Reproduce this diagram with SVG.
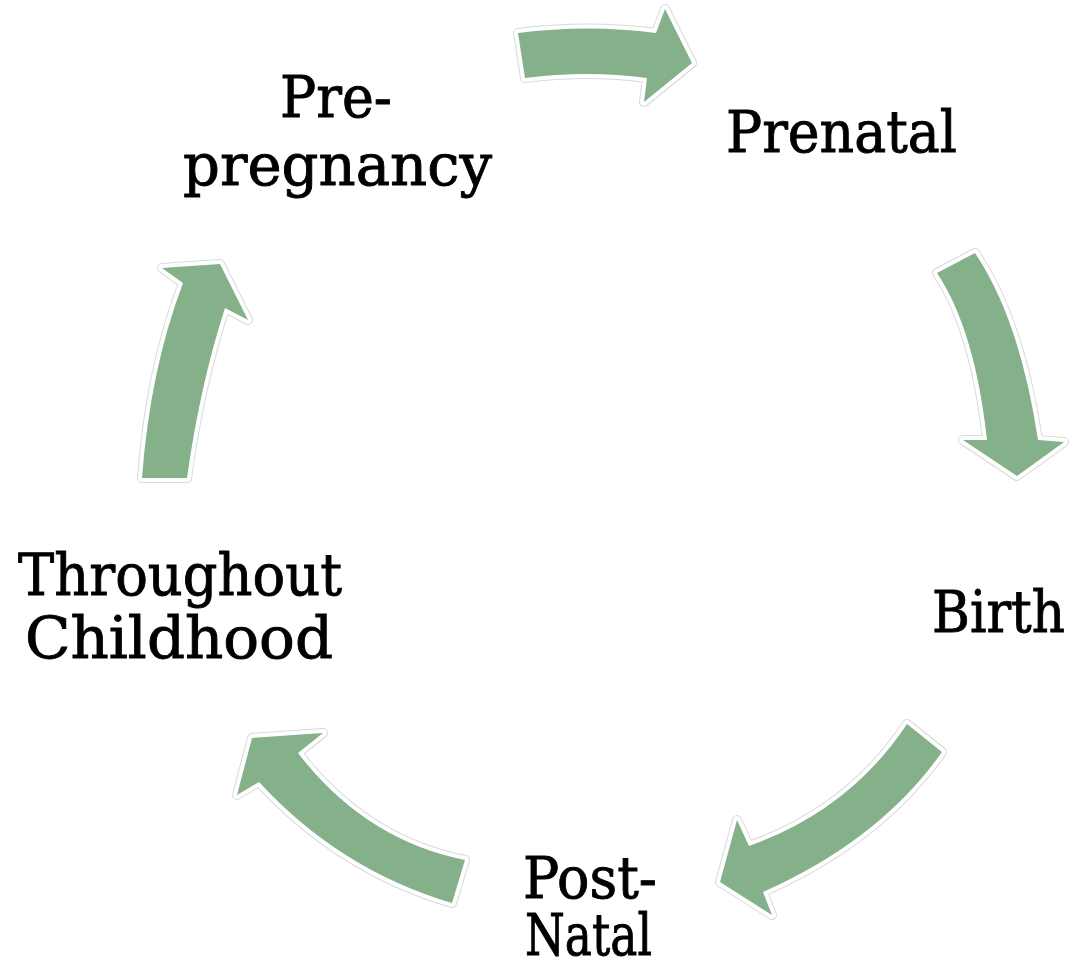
<svg xmlns="http://www.w3.org/2000/svg" xmlns:xlink="http://www.w3.org/1999/xlink" width="1070" height="962" viewBox="0 0 1070 962">
<style>
.lbl{font-family:"DejaVu Serif","Liberation Serif",serif;font-size:57px;fill:#000;stroke:#000;stroke-width:0.9px;}
.edge{fill:none;stroke:#d9d9d9;stroke-width:10;stroke-linejoin:round;}
.halo{fill:none;stroke:#fff;stroke-width:8;stroke-linejoin:round;}
.arw{fill:#84b08a;stroke:none;}
</style>
<defs>
<path id="a1" d="M518,33 Q588,24 656,33 L665,9 L692,63 L644,102 L647,78 Q588,70 525,78 Z"/>
<path id="a2" d="M937,273 L975,253 Q1020,320 1038,440 L1064,442 L1017,476 L963,440 L987,440 Q975,330 937,273 Z"/>
<path id="a3" d="M907,724 L942,752 Q880,840 763,892 L772,915 L720,882 L737,820 L749,846 Q850,810 907,724 Z"/>
<path id="a4" d="M465,860 L452,903 Q340,870 259,782 L237,795 L252,738 L323,733 L298,753 Q365,840 465,860 Z"/>
<path id="a5" d="M142,478 L187,478 Q200,385 225,308 L248,320 L220,264 L162,268 L183,283 Q150,370 142,478 Z"/>
</defs>
<rect width="1070" height="962" fill="#fff"/>
<g id="connectors">
<use xlink:href="#a1" class="edge"/><use xlink:href="#a1" class="halo"/><use xlink:href="#a1" class="arw"/>
<use xlink:href="#a2" class="edge"/><use xlink:href="#a2" class="halo"/><use xlink:href="#a2" class="arw"/>
<use xlink:href="#a3" class="edge"/><use xlink:href="#a3" class="halo"/><use xlink:href="#a3" class="arw"/>
<use xlink:href="#a4" class="edge"/><use xlink:href="#a4" class="halo"/><use xlink:href="#a4" class="arw"/>
<use xlink:href="#a5" class="edge"/><use xlink:href="#a5" class="halo"/><use xlink:href="#a5" class="arw"/>
</g>
<g id="node-prepregnancy">
<text class="lbl" x="280" y="117" textLength="112" lengthAdjust="spacingAndGlyphs">Pre-</text>
<text class="lbl" x="183" y="185" textLength="309" lengthAdjust="spacingAndGlyphs">pregnancy</text>
</g>
<g id="node-prenatal">
<text class="lbl" x="726" y="152" textLength="231" lengthAdjust="spacingAndGlyphs">Prenatal</text>
</g>
<g id="node-birth">
<text class="lbl" x="932" y="632" textLength="133" lengthAdjust="spacingAndGlyphs">Birth</text>
</g>
<g id="node-postnatal">
<text class="lbl" x="523" y="898" textLength="134" lengthAdjust="spacingAndGlyphs">Post-</text>
<text class="lbl" x="525" y="955" textLength="127" lengthAdjust="spacingAndGlyphs">Natal</text>
</g>
<g id="node-childhood">
<text class="lbl" x="18" y="595" textLength="324" lengthAdjust="spacingAndGlyphs">Throughout</text>
<text class="lbl" x="25" y="658" textLength="308" lengthAdjust="spacingAndGlyphs">Childhood</text>
</g>
</svg>
